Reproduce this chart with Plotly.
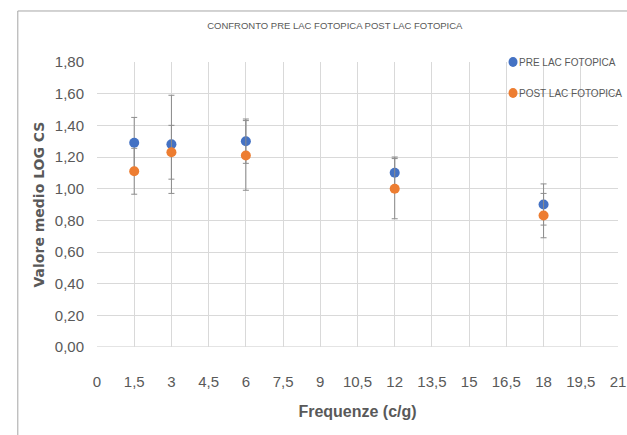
import plotly.graph_objects as go

# Spatial frequencies (cycles/degree)
frequenze = [1.5, 3, 6, 12, 18]

# Mean log contrast sensitivity and standard deviations
pre_media = [1.29, 1.28, 1.30, 1.10, 0.90]
pre_sd = [0.16, 0.31, 0.14, 0.10, 0.13]
post_media = [1.11, 1.23, 1.21, 1.00, 0.83]
post_sd = [0.145, 0.17, 0.22, 0.19, 0.14]

serie = ["PRE LAC FOTOPICA", "POST LAC FOTOPICA"]
colori = ["#4472C4", "#ED7D31"]

x_ticks = [0, 1.5, 3, 4.5, 6, 7.5, 9, 10.5, 12, 13.5, 15, 16.5, 18, 19.5, 21]
y_ticks = [0, 0.2, 0.4, 0.6, 0.8, 1.0, 1.2, 1.4, 1.6, 1.8]

def virgola(v, dec):
    return f"{v:.{dec}f}".replace(".", ",")

x_labels = [virgola(v, 1).rstrip("0").rstrip(",") for v in x_ticks]
y_labels = [virgola(v, 2) for v in y_ticks]

GRIGIO = "#595959"
SANS = "Liberation Sans, Arial, sans-serif"

fig = go.Figure()
for nome, colore, media, sd in zip(serie, colori, [pre_media, post_media], [pre_sd, post_sd]):
    fig.add_trace(go.Scatter(
        x=frequenze, y=media, mode="markers", name=nome, showlegend=False,
        marker=dict(color=colore, size=10),
        error_y=dict(type="data", array=sd, visible=True,
                     color="#8C8C8C", thickness=1, width=3),
    ))

# Compact legend in the top-right corner: dot + label per series
shapes = [
    # chart frame
    dict(type="rect", xref="paper", yref="paper",
         x0=-0.152, x1=1.2, y0=-0.5, y1=1.179,
         line=dict(color="#A6A6A6", width=1), layer="below"),
    # bottom edge of plot area
    dict(type="line", xref="paper", yref="y", x0=0, x1=1, y0=0, y1=0,
         line=dict(color="#C8C8C8", width=1), layer="below"),
]
annotations = []
legend_y = [1.0, 0.891]
for nome, colore, ly in zip(serie, colori, legend_y):
    shapes.append(dict(type="circle", xref="paper", yref="paper",
                       xsizemode="pixel", ysizemode="pixel",
                       xanchor=0.7985, yanchor=ly, x0=-4.5, x1=4.5, y0=-5, y1=5,
                       fillcolor=colore, line=dict(width=0)))
    annotations.append(dict(text=nome, xref="paper", yref="paper",
                            x=0.8065, y=ly, xanchor="left", yanchor="middle",
                            showarrow=False,
                            font=dict(family=SANS, size=10, color=GRIGIO)))

fig.update_layout(
    width=627, height=435,
    margin=dict(l=97, r=9, t=62, b=88, autoexpand=False),
    paper_bgcolor="white", plot_bgcolor="white",
    title=dict(text="CONFRONTO PRE LAC FOTOPICA POST LAC FOTOPICA",
               x=0.534, xanchor="center", y=0.94, yanchor="middle",
               font=dict(family=SANS, size=9.5, color=GRIGIO)),
    xaxis=dict(range=[0, 21], tickvals=x_ticks, ticktext=x_labels,
               showgrid=True, gridcolor="#D9D9D9", gridwidth=1,
               zeroline=False, showline=False, ticks="",
               tickfont=dict(family=SANS, size=15, color=GRIGIO),
               ticklabelstandoff=24, ticklabeloverflow="allow",
               title=dict(text="<b>Frequenze (c/g)</b>", standoff=16,
                          font=dict(family=SANS, size=16, color=GRIGIO))),
    yaxis=dict(range=[0, 1.8], tickvals=y_ticks, ticktext=y_labels,
               showgrid=True, gridcolor="#D9D9D9", gridwidth=1,
               zeroline=False, showline=False, ticks="",
               tickfont=dict(family=SANS, size=15, color=GRIGIO),
               ticklabelstandoff=12,
               title=dict(text="<b>Valore medio LOG CS</b>", standoff=6,
                          font=dict(family="DejaVu Sans", size=14, color=GRIGIO))),
    showlegend=False,
    shapes=shapes,
    annotations=annotations,
)

fig.write_html("out.html")
